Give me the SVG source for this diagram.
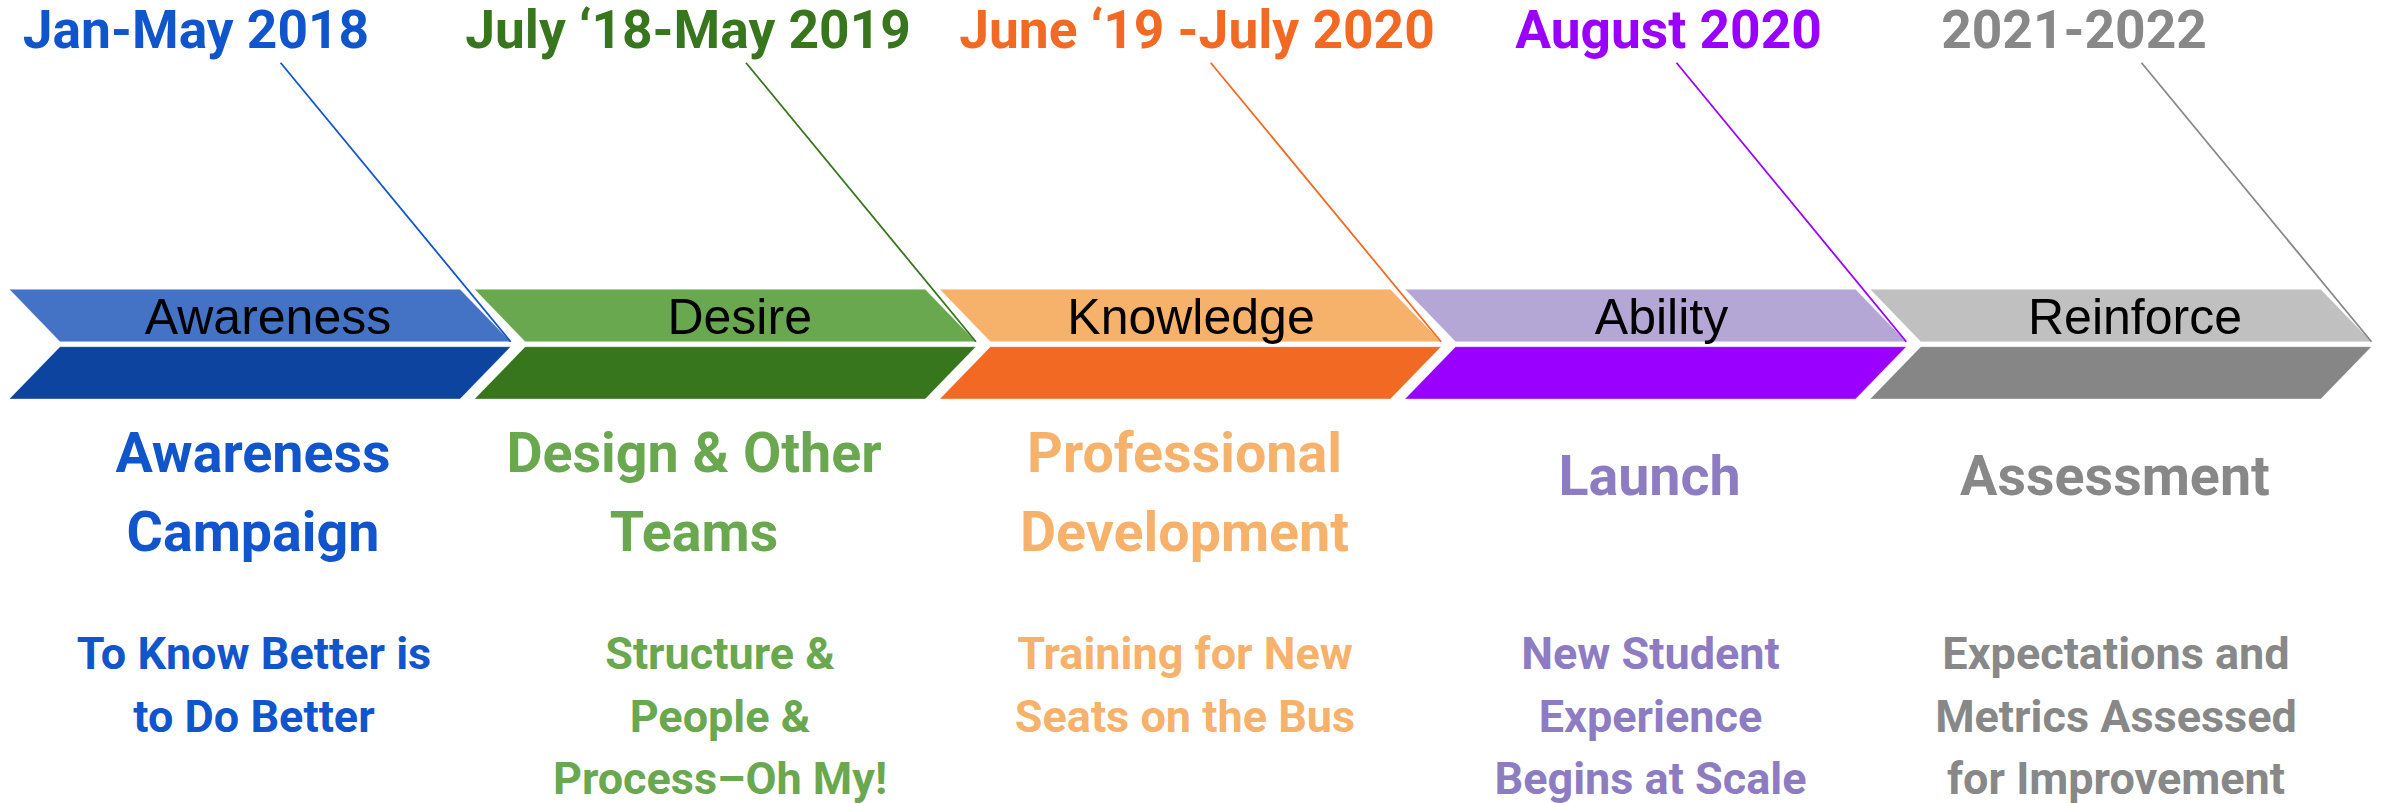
<svg xmlns="http://www.w3.org/2000/svg" width="2384" height="803" viewBox="0 0 2384 803">
<style>
.date{font-family:Roboto,"Liberation Sans",sans-serif;font-weight:700;font-size:53.3px;text-anchor:middle}
.bar{font-family:"Liberation Sans",Arial,sans-serif;font-size:50px;text-anchor:middle;fill:#000}
.head{font-family:Roboto,"Liberation Sans",sans-serif;font-weight:700;font-size:55.6px;text-anchor:middle}
.body{font-family:Roboto,"Liberation Sans",sans-serif;font-weight:700;font-size:45px;text-anchor:middle}
.edge{stroke:#ffffff;stroke-opacity:0.35;stroke-width:1}
.lead{fill:none;stroke-width:1.8}
</style>
<defs>
<path id="topHalf" d="M0,289.3 L450.7,289.3 L501.4,341.7 L50.7,341.7 Z"/>
<path id="botHalf" d="M50.7,346.7 L501.4,346.7 L450.7,399 L0,399 Z"/>
</defs>
<rect width="2384" height="803" fill="#ffffff"/>

<g id="stage-awareness">
<use href="#topHalf" x="9.3" fill="#4472C4" class="edge"/>
<use href="#botHalf" x="9.3" fill="#0C44A0" class="edge"/>
<text class="date" x="196" y="48" fill="#1155CC">Jan-May 2018</text>
<text class="bar" x="268" y="334">Awareness</text>
<text class="head" x="253" y="472" fill="#1155CC">Awareness</text>
<text class="head" x="253" y="550.7" fill="#1155CC">Campaign</text>
<text class="body" x="254" y="669.3" fill="#1155CC">To Know Better is</text>
<text class="body" x="254" y="731.7" fill="#1155CC">to Do Better</text>
</g>

<g id="stage-desire">
<use href="#topHalf" x="474.5" fill="#6AA84F" class="edge"/>
<use href="#botHalf" x="474.5" fill="#38761D" class="edge"/>
<text class="date" x="688" y="48" fill="#38761D">July ‘18-May 2019</text>
<text class="bar" x="739.7" y="334">Desire</text>
<text class="head" x="694" y="472" fill="#6AA84F">Design &amp; Other</text>
<text class="head" x="694" y="550.7" fill="#6AA84F">Teams</text>
<text class="body" x="720" y="669.3" fill="#6AA84F">Structure &amp;</text>
<text class="body" x="720" y="731.7" fill="#6AA84F">People &amp;</text>
<text class="body" x="720" y="793.5" fill="#6AA84F">Process–Oh My!</text>
</g>

<g id="stage-knowledge">
<use href="#topHalf" x="939.7" fill="#F6B26B" class="edge"/>
<use href="#botHalf" x="939.7" fill="#F26924" class="edge"/>
<text class="date" x="1197" y="48" fill="#F26924">June ‘19 -July 2020</text>
<text class="bar" x="1191" y="334">Knowledge</text>
<text class="head" x="1184.5" y="472" fill="#F6B26B">Professional</text>
<text class="head" x="1184.5" y="550.7" fill="#F6B26B">Development</text>
<text class="body" x="1185" y="669.3" fill="#F6B26B">Training for New</text>
<text class="body" x="1185" y="731.7" fill="#F6B26B">Seats on the Bus</text>
</g>

<g id="stage-ability">
<use href="#topHalf" x="1404.9" fill="#B4A7D6" class="edge"/>
<use href="#botHalf" x="1404.9" fill="#9900FF" class="edge"/>
<text class="date" x="1668.5" y="48" fill="#9900FF">August 2020</text>
<text class="bar" x="1661.5" y="334">Ability</text>
<text class="head" x="1649.5" y="495" fill="#8E7CC3">Launch</text>
<text class="body" x="1650.5" y="669.3" fill="#8E7CC3">New Student</text>
<text class="body" x="1650.5" y="731.7" fill="#8E7CC3">Experience</text>
<text class="body" x="1650.5" y="793.5" fill="#8E7CC3">Begins at Scale</text>
</g>

<g id="stage-reinforce">
<use href="#topHalf" x="1870.1" fill="#C0C0C0" class="edge"/>
<use href="#botHalf" x="1870.1" fill="#868686" class="edge"/>
<text class="date" x="2074" y="48" fill="#888888">2021-2022</text>
<text class="bar" x="2135" y="334">Reinforce</text>
<text class="head" x="2115" y="495" fill="#888888">Assessment</text>
<text class="body" x="2116" y="669.3" fill="#888888">Expectations and</text>
<text class="body" x="2116" y="731.7" fill="#888888">Metrics Assessed</text>
<text class="body" x="2116" y="793.5" fill="#888888">for Improvement</text>
</g>

<g id="connectors">
<line class="lead" x1="280.6" y1="62.7" x2="510.7" y2="341.7" stroke="#1155CC"/>
<line class="lead" x1="746" y1="62.7" x2="975.9" y2="341.7" stroke="#38761D"/>
<line class="lead" x1="1210.7" y1="62.7" x2="1441.1" y2="341.7" stroke="#F26924"/>
<line class="lead" x1="1676.5" y1="62.7" x2="1906.3" y2="341.7" stroke="#9900FF"/>
<line class="lead" x1="2141.5" y1="62.7" x2="2371.5" y2="341.7" stroke="#888888"/>
</g>
</svg>
